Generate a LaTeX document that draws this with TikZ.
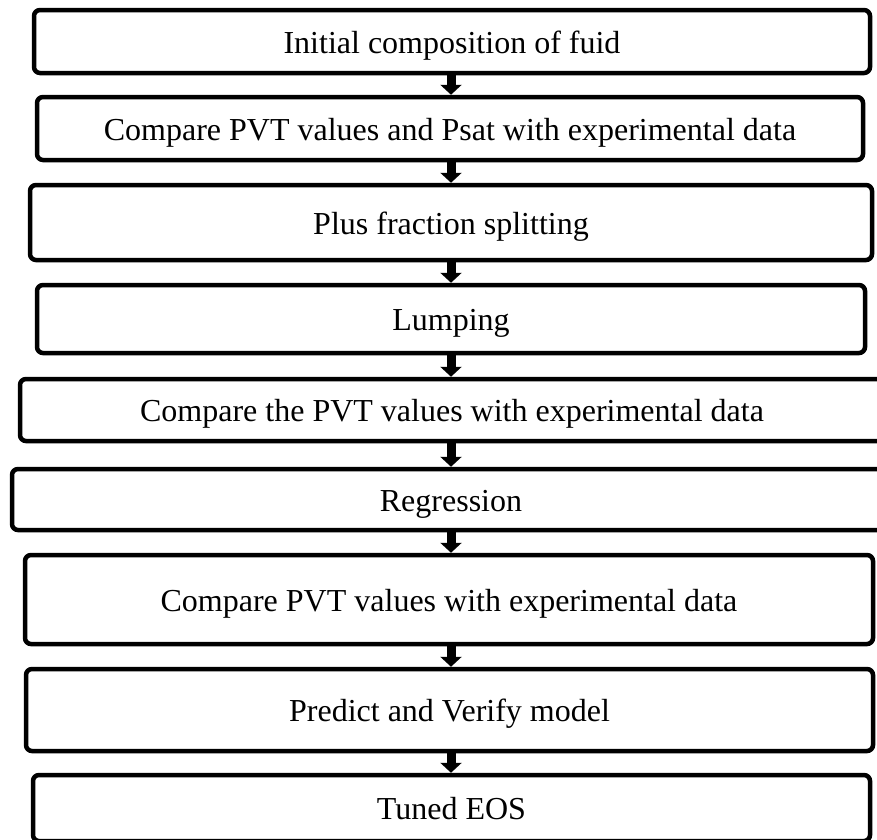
\documentclass[tikz,border=0pt]{standalone}
\usepackage{fontspec}
\setmainfont{Liberation Serif}
\usetikzlibrary{arrows.meta}
\begin{document}
\begin{tikzpicture}[x=1pt,y=-1pt,
  stepbox/.style={draw=black, line width=4.5pt, rounded corners=6pt, inner sep=0pt,
    text height=23pt, text depth=0pt,
    font=\fontsize{32}{38}\selectfont, align=center},
  flow/.style={draw=black, line width=9pt, -{Triangle[width=21pt,length=10pt]}}]
\useasboundingbox (0,0) rectangle (877,839);
\clip (0,0) rectangle (877,839);
\coordinate (ax) at (451,0);
\node[stepbox, minimum width=836pt, minimum height=63pt] (b1) at (452,41.5) {Initial composition of fuid};
\node[stepbox, minimum width=826pt, minimum height=63pt] (b2) at (450,128.5) {Compare PVT values and Psat with experimental data};
\node[stepbox, minimum width=842pt, minimum height=75pt] (b3) at (451,222.5) {Plus fraction splitting};
\node[stepbox, minimum width=828pt, minimum height=68pt] (b4) at (451,319) {Lumping};
\node[stepbox, minimum width=864pt, minimum height=62pt] (b5) at (452,410) {Compare the PVT values with experimental data};
\node[stepbox, minimum width=878pt, minimum height=61pt] (b6) at (451,499.5) {Regression};
\node[stepbox, minimum width=848pt, minimum height=89pt] (b7) at (449,599.5) {Compare PVT values with experimental data};
\node[stepbox, minimum width=847pt, minimum height=82pt] (b8) at (449.5,710) {Predict and Verify model};
\node[stepbox, minimum width=837pt, minimum height=66pt] (b9) at (451.5,808) {Tuned EOS};
\draw[flow] (ax |- b1.south) -- (ax |- b2.north);
\draw[flow] (ax |- b2.south) -- (ax |- b3.north);
\draw[flow] (ax |- b3.south) -- (ax |- b4.north);
\draw[flow] (ax |- b4.south) -- (ax |- b5.north);
\draw[flow] (ax |- b5.south) -- (ax |- b6.north);
\draw[flow] (ax |- b6.south) -- (ax |- b7.north);
\draw[flow] (ax |- b7.south) -- (ax |- b8.north);
\draw[flow] (ax |- b8.south) -- (ax |- b9.north);
\end{tikzpicture}
\end{document}
